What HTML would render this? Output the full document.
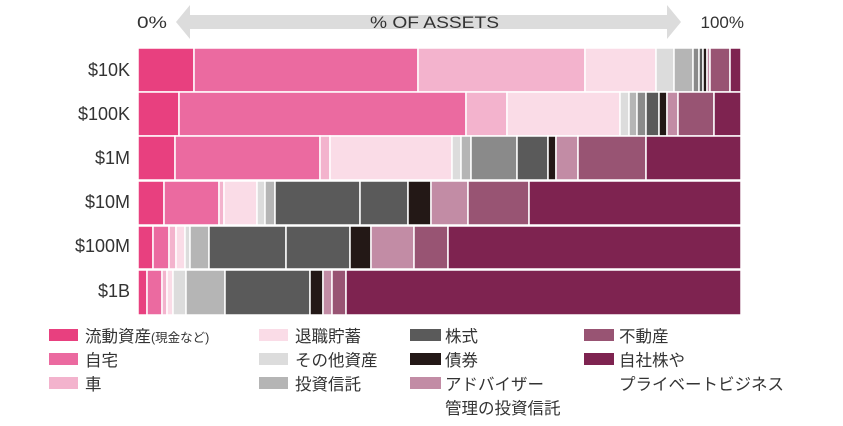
<!DOCTYPE html>
<html><head><meta charset="utf-8"><style>
body{margin:0;background:#fff;}
svg text{font-family:"Liberation Sans","Noto Sans CJK JP",sans-serif;fill:#333;}
</style></head><body>
<svg width="843" height="421" xmlns="http://www.w3.org/2000/svg">
<polygon points="176,22 190,5 190,15 667,15 667,5 681,22 667,39 667,29 190,29 190,39" fill="#dcdcdc"/>
<text x="137" y="28" font-size="17" textLength="30" lengthAdjust="spacingAndGlyphs">0%</text>
<text x="370" y="28" font-size="17" textLength="129" lengthAdjust="spacingAndGlyphs">% OF ASSETS</text>
<text x="744" y="28" font-size="17" text-anchor="end">100%</text>
<g font-size="18" text-anchor="end">
<text x="130" y="76">$10K</text>
<text x="130" y="120">$100K</text>
<text x="130" y="164">$1M</text>
<text x="130" y="208">$10M</text>
<text x="130" y="252">$100M</text>
<text x="130" y="297">$1B</text>
</g>
<g id="bars" stroke="#fff" stroke-width="1.5"></g>
<g font-size="16.5">
<rect x="49" y="329" width="29" height="12" fill="#e8407f"/><text x="85" y="342">流動資産<tspan font-size="12.5">(現金など)</tspan></text>
<rect x="49" y="353" width="29" height="12" fill="#eb6aa0"/><text x="85" y="366">自宅</text>
<rect x="49" y="377" width="29" height="12" fill="#f3b3cd"/><text x="85" y="390">車</text>
<rect x="259" y="329" width="29" height="12" fill="#fadce7"/><text x="295" y="342">退職貯蓄</text>
<rect x="259" y="353" width="29" height="12" fill="#dcdcdc"/><text x="295" y="366">その他資産</text>
<rect x="259" y="377" width="29" height="12" fill="#b5b5b5"/><text x="295" y="390">投資信託</text>
<rect x="410" y="329" width="31" height="12" fill="#5a5a5a"/><text x="445" y="342">株式</text>
<rect x="410" y="353" width="31" height="12" fill="#231816"/><text x="445" y="366">債券</text>
<rect x="410" y="377" width="31" height="12" fill="#c28ca5"/><text x="445" y="390">アドバイザー</text>
<text x="445" y="414">管理の投資信託</text>
<rect x="584" y="329" width="30" height="12" fill="#985473"/><text x="619" y="342">不動産</text>
<rect x="584" y="353" width="30" height="12" fill="#7e2350"/><text x="619" y="366">自社株や</text>
<text x="619" y="390">プライベートビジネス</text>
</g>
</svg>
<script>
var C={a:"#e8407f",b:"#eb6aa0",c:"#f3b3cd",d:"#fadce7",e:"#dcdcdc",f:"#b5b5b5",g:"#8a8a8a",h:"#5a5a5a",k:"#231816",l:"#c28ca5",m:"#985473",n:"#7e2350"};
var rows=[
[48,44,[138,194,418,585,656,674,693,699,703,707,710,730,741],"abcdefghklmn"],
[92,44,[138,179,466,507,620,629,637,646,659,667,678,714,741],"abcdefghklmn"],
[136,44,[138,175,320,330,452,461,471,517,548,556,578,646,741],"abcdefghklmn"],
[181,44,[138,164,219,224,257,265,275,360,408,431,468,529,741],"abcdefhhklmn"],
[226,43,[138,153,169,176,185,190,209,286,350,371,414,448,741],"abcdefhhklmn"],
[270,45,[138,147,162,167,173,186,225,310,323,332,346,741],"abcdefhklmn"]];
var g=document.getElementById("bars"),s="";
rows.forEach(function(r){for(var i=0;i<r[3].length;i++){s+='<rect x="'+r[2][i]+'" y="'+r[0]+'" width="'+(r[2][i+1]-r[2][i])+'" height="'+r[1]+'" fill="'+C[r[3][i]]+'"/>';}});
g.innerHTML=s;
</script>
</body></html>
